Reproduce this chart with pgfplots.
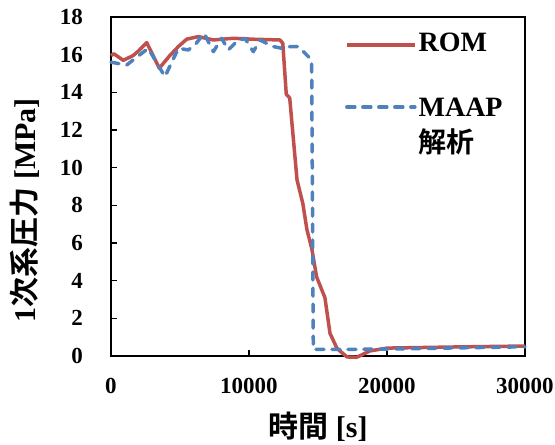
\documentclass[border=0pt]{standalone}
\usepackage{pgfplots}
\pgfplotsset{compat=1.18}
\usepackage{fontspec}
\setmainfont{Liberation Serif}
\newfontfamily\jp{Noto Sans CJK JP}[BoldFont={* Bold}]
\definecolor{romred}{HTML}{C0504D}
\definecolor{maapblue}{HTML}{4F81BD}
\begin{document}
\begin{tikzpicture}
\begin{axis}[
  scale only axis, width=414bp, height=339bp,
  xmin=0, xmax=30000, ymin=0, ymax=18,
  xtick={0,10000,20000,30000}, ytick={0,2,...,18},
  scaled x ticks=false,
  /pgf/number format/1000 sep={},
  /pgf/number format/assume math mode=true,
  tick align=inside, xtick pos=bottom, ytick pos=left,
  major tick length=6bp,
  axis line style={line width=1.6bp},
  tick style={line width=1.2bp, black},
  tick label style={font=\fontsize{23bp}{27bp}\selectfont\bfseries},
  yticklabel style={anchor=east, inner sep=0pt, xshift=-28bp},
  xticklabel style={anchor=north, inner sep=0pt, yshift=-22bp},
  ylabel={1{\jp 次系圧力} [MPa]},
  xlabel={{\jp 時間} [s]},
  label style={font=\fontsize{30bp}{36bp}\selectfont\bfseries},
  ylabel style={at={(axis description cs:-0.209,0.43)}, anchor=center},
  xlabel style={at={(axis description cs:0.5,-0.209)}, anchor=center},
  clip=false,
  legend cell align=left,
  legend image code/.code={\draw[#1] (0bp,-2bp) -- (68bp,-2bp);},
  legend style={at={(rel axis cs:0.565,0.96)}, anchor=north west, draw=none, fill=none,
    font=\fontsize{28bp}{36bp}\selectfont\bfseries, row sep=35bp, inner sep=0pt,
    /tikz/every even column/.append style={column sep=9bp}},
]
\coordinate (SW) at (rel axis cs:0,0);
\coordinate (NE) at (rel axis cs:1,1);
\addplot[romred, line width=3.5bp, line join=round] coordinates {
(0,15.95) (200,16.05) (890,15.7) (1600,15.95) (2000,16.2) (2590,16.64) (3500,15.28)
(4200,15.9) (4880,16.43) (5480,16.82) (6330,16.96) (7420,16.78) (8860,16.87)
(10310,16.82) (12250,16.78) (12450,16.6) (12700,13.9) (12950,13.7) (13480,9.35)
(13900,8.1) (14200,6.7) (14550,5.7) (14900,4.2) (15500,3.1) (15870,1.2) (16380,0.4)
(17100,-0.05) (17800,-0.07) (18770,0.27) (20000,0.42) (25000,0.48) (30000,0.53)
};
\addlegendentry{ROM}
\addplot[maapblue, line width=3.5bp, line join=round, line cap=round, dash pattern=on 8bp off 8bp] coordinates {
(0,15.6) (1135,15.45) (2700,16.34) (3910,14.83) (4880,16.34) (5600,16.25) (6090,16.52)
(6740,17.14) (7420,16.16) (8020,16.87) (8500,16.25) (9100,16.69) (9710,16.87)
(10310,16.16) (10800,16.78) (11280,16.6) (11760,16.43) (12370,16.34) (12970,16.43)
(13580,16.43) (14540,15.72) (14660,0.35) (17000,0.35) (20000,0.37) (25000,0.43) (30000,0.49)
};
\addlegendentry{\begin{tabular}[t]{@{}l@{}}MAAP\\{\jp 解析}\end{tabular}}
\end{axis}
\pgfresetboundingbox
\path[use as bounding box] ([shift={(-111bp,-89bp)}]SW) rectangle ([shift={(30bp,17bp)}]NE);
\end{tikzpicture}
\end{document}
